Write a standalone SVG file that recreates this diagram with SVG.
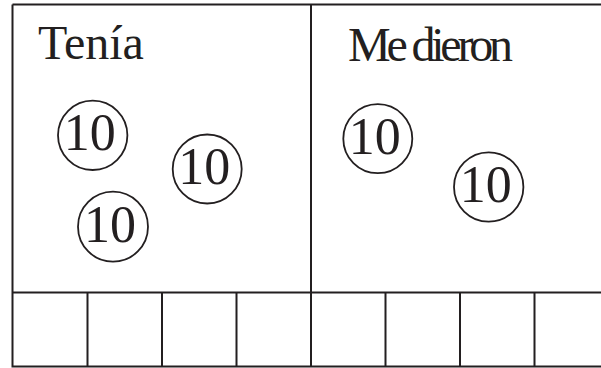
<svg xmlns="http://www.w3.org/2000/svg" width="601" height="368" viewBox="0 0 601 368">
<style>
.ln{stroke:#231f20;stroke-width:2;fill:none}
.coin{stroke:#231f20;stroke-width:1.8;fill:#fff}
.num{font-family:"Liberation Serif","Times New Roman",serif;font-size:52px;fill:#231f20;text-anchor:middle}
.lbl{font-family:"Liberation Serif","Times New Roman",serif;font-size:48px;fill:#231f20}
</style>
<rect width="601" height="368" fill="#fff"/>
<g id="frame">
<path class="ln" d="M12.5 4.5 H610 M12.5 4.5 V366.5 H610 M311 4.5 V366.5 M12.5 292.5 H610"/>
<path class="ln" d="M87.5 292.5 V366.5 M162 292.5 V366.5 M236.5 292.5 V366.5 M385.5 292.5 V366.5 M460 292.5 V366.5 M534.5 292.5 V366.5"/>
</g>
<g id="label-tenia"><text class="lbl" x="38" y="59">Tenía</text></g>
<g id="label-medieron"><text class="lbl" x="348" y="61" textLength="165" lengthAdjust="spacing">Me dieron</text></g>
<g id="coin1"><circle class="coin" cx="92.7" cy="135.3" r="34.7"/><text class="num" x="89.7" y="150">10</text></g>
<g id="coin2"><circle class="coin" cx="207.2" cy="169" r="34.5"/><text class="num" x="204.2" y="184">10</text></g>
<g id="coin3"><circle class="coin" cx="113" cy="226.7" r="35"/><text class="num" x="110" y="241.5">10</text></g>
<g id="coin4"><circle class="coin" cx="377.8" cy="138.7" r="34.5"/><text class="num" x="374.8" y="153.5">10</text></g>
<g id="coin5"><circle class="coin" cx="488.7" cy="187" r="34.7"/><text class="num" x="485.7" y="202">10</text></g>
<g id="connectors"></g>
</svg>
